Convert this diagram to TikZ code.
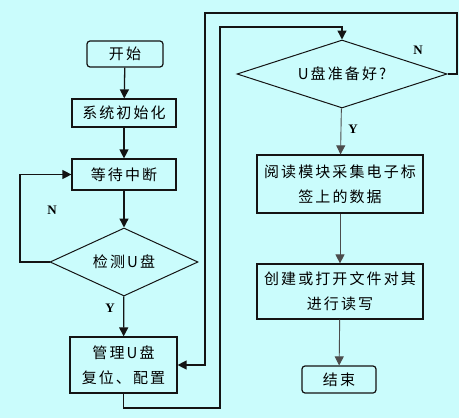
\documentclass[tikz,border=0pt]{standalone}
\usepackage{fontspec}
\usetikzlibrary{shapes.geometric,arrows.meta}
\newfontfamily\cjk[LetterSpace=14]{Noto Sans CJK SC}
\newfontfamily\lat{Liberation Serif}
\definecolor{bgc}{RGB}{202,252,252}
\definecolor{lnc}{RGB}{20,20,20}
\tikzset{
  every node/.style={font=\cjk\fontsize{15}{25}\selectfont, text=black},
  proc/.style={draw=lnc, line width=1.2pt, rectangle, inner sep=0pt, align=center},
  term/.style={proc, rounded corners=3pt},
  decis/.style={draw=lnc, line width=1pt, diamond, inner sep=0pt, aspect=2.2},
  flowL/.style={draw=lnc, line width=1.3pt, -{Triangle[width=9pt,length=9pt]}},
  flowR/.style={draw=black!70, line width=0.9pt, -{Triangle[width=9pt,length=9pt]}},
  yn/.style={font=\lat\bfseries\fontsize{13}{14}\selectfont}
}
\begin{document}
\begin{tikzpicture}[x=1pt,y=-1pt]
\fill[bgc] (0,0) rectangle (459,418);
\useasboundingbox (0,0) rectangle (459,418);
% left column
\node[term, minimum width=76pt, minimum height=26pt] (start) at (125,54) {开始};
\node[proc, minimum width=104pt, minimum height=28pt] (init) at (124,113) {系统初始化};
\node[proc, minimum width=104pt, minimum height=31pt] (wait) at (124,174.5) {等待中断};
\node[decis, minimum width=148pt, minimum height=68pt] (det) at (124,262) {检测U盘};
\node[proc, minimum width=107pt, minimum height=56pt] (mgr) at (123.5,365) {管理U盘\\复位、配置};
% right column
\node[decis, minimum width=210pt, minimum height=68pt] (ready) at (342,74) {U盘准备好?};
\node[proc, minimum width=166pt, minimum height=58pt] (read) at (340,184) {阅读模块采集电子标\\签上的数据};
\node[proc, minimum width=166pt, minimum height=55pt] (file) at (340,291.5) {创建或打开文件对其\\进行读写};
\node[term, minimum width=74pt, minimum height=27pt] (end) at (339,379.5) {结束};
% coordinates
\coordinate (l1) at (20,262);
\coordinate (l2) at (20,174.5);
\coordinate (b1) at (123.5,408);
\coordinate (b2) at (220,408);
\coordinate (b3) at (220,27);
\coordinate (b4) at (342,27);
\coordinate (r1) at (457,74);
\coordinate (r2) at (457,13);
\coordinate (r3) at (205,13);
\coordinate (r4) at (205,365);
% left flow
\draw[flowL] (start) -- (init);
\draw[flowL] (init) -- (wait);
\draw[flowL] (wait) -- (det);
\draw[flowL] (det) -- (mgr);
\draw[flowL] (det.west) -- (l1) -- (l2) -- (wait.west);
\draw[flowL] (mgr.south) -- (b1) -- (b2) -- (b3) -- (b4) -- (ready.north);
\draw[flowL] (ready.east) -- (r1) -- (r2) -- (r3) -- (r4) -- (mgr.east);
% right flow
\draw[flowR] (ready) -- (read);
\draw[flowR] (read) -- (file);
\draw[flowR] (file) -- (end);
% labels
\node[yn] (nl) at (52,210) {N};
\node[yn] (yl) at (110,308) {Y};
\node[yn] (nr) at (418,50) {N};
\node[yn] (yr) at (353,129) {Y};
\end{tikzpicture}
\end{document}
